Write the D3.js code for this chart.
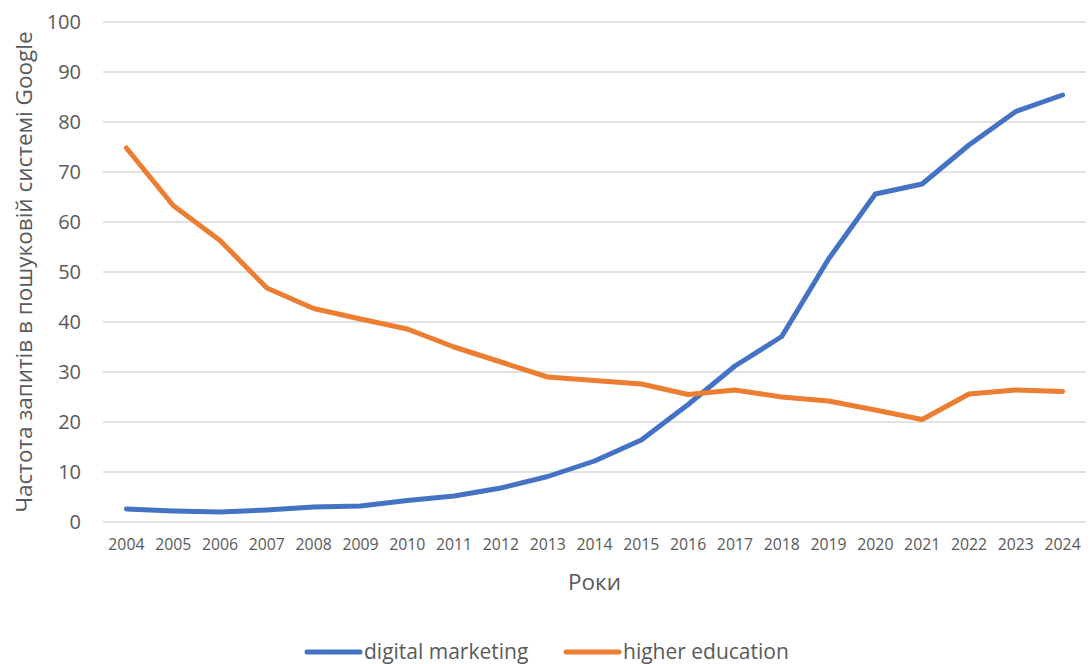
<!DOCTYPE html>
<html>
<head>
<meta charset="utf-8">
<script src="https://cdn.jsdelivr.net/npm/d3@7"></script>
<style>
body { margin: 0; background: #fff; }
text { font-family: "Open Sans", "Noto Sans", sans-serif; fill: #595959; }
</style>
</head>
<body>
<div id="chart"></div>
<script>
var years = ["2004","2005","2006","2007","2008","2009","2010","2011","2012","2013","2014",
  "2015","2016","2017","2018","2019","2020","2021","2022","2023","2024"];
var digitalMarketing = [2.6, 2.2, 2.0, 2.4, 3.0, 3.2, 4.3, 5.2, 6.8, 9.1, 12.2,
  16.4, 23.5, 31.2, 37.1, 52.6, 65.6, 67.6, 75.4, 82.1, 85.4];
var higherEducation = [74.8, 63.3, 56.3, 46.8, 42.7, 40.6, 38.6, 35.0, 32.0, 29.0, 28.3,
  27.6, 25.5, 26.4, 25.0, 24.2, 22.4, 20.5, 25.6, 26.4, 26.1];
var yTicks = [0, 10, 20, 30, 40, 50, 60, 70, 80, 90, 100];

var series = [
  {name: "digital marketing", values: digitalMarketing, color: "#4472C4"},
  {name: "higher education", values: higherEducation, color: "#ED7D31"}
];

var W = 1090, H = 664;
var margin = {top: 22, right: 4, bottom: 142, left: 103},
width = W - margin.left - margin.right,
height = H - margin.top - margin.bottom;

var x = d3.scaleBand()
  .domain(years)
  .range([0, width]);

var y = d3.scaleLinear().domain([0, 100]).range([height, 0]);

var svg = d3.select("#chart").append("svg")
  .attr("width", W)
  .attr("height", H);

var g = svg.append("g")
  .attr("transform", "translate(" + margin.left + "," + margin.top + ")");

// gridlines
g.append("g")
  .selectAll("line")
  .data(yTicks)
  .enter().append("line")
  .attr("x1", 0)
  .attr("x2", width)
  .attr("y1", function(d) { return y(d); })
  .attr("y2", function(d) { return y(d); })
  .attr("stroke", "#d9d9d9")
  .attr("stroke-width", 1.5);

// y axis
var yAxis = d3.axisLeft(y).tickValues(yTicks).tickSize(0).tickPadding(22);
var yg = g.append("g").call(yAxis);
yg.select(".domain").remove();
yg.selectAll("text").style("font-size", "20px").style("fill", "#595959");

// x axis
var xAxis = d3.axisBottom(x).tickSize(0).tickPadding(17);
var xg = g.append("g")
  .attr("transform", "translate(0," + height + ")")
  .call(xAxis);
xg.select(".domain").remove();
xg.selectAll("text").style("font-size", "15.8px").style("fill", "#595959");

// lines
var line = d3.line()
  .x(function(d, i) { return x(years[i]) + x.bandwidth() / 2; })
  .y(function(d) { return y(d); });

g.selectAll(".series")
  .data(series)
  .enter().append("path")
  .attr("class", "series")
  .attr("d", function(d) { return line(d.values); })
  .attr("fill", "none")
  .attr("stroke", function(d) { return d.color; })
  .attr("stroke-width", 5)
  .attr("stroke-linecap", "round")
  .attr("stroke-linejoin", "round");

// axis titles
svg.append("text")
  .attr("x", margin.left + width / 2)
  .attr("y", 590)
  .attr("text-anchor", "middle")
  .style("font-size", "22.5px")
  .text("Роки");

svg.append("text")
  .attr("transform", "translate(32," + (margin.top + height / 2) + ") rotate(-90)")
  .attr("text-anchor", "middle")
  .style("font-size", "22.5px")
  .text("Частота запитів в пошуковій системі Google");

// legend
var legendX = [307, 566];
var lg = svg.selectAll(".legend")
  .data(series)
  .enter().append("g")
  .attr("class", "legend")
  .attr("transform", function(d, i) { return "translate(" + legendX[i] + ",652)"; });

lg.append("line")
  .attr("x1", 0).attr("x2", 53)
  .attr("y1", 0).attr("y2", 0)
  .attr("stroke", function(d) { return d.color; })
  .attr("stroke-width", 5)
  .attr("stroke-linecap", "round");

lg.append("text")
  .attr("x", 57)
  .attr("y", 7)
  .style("font-size", "21px")
  .text(function(d) { return d.name; });
</script>
</body>
</html>
